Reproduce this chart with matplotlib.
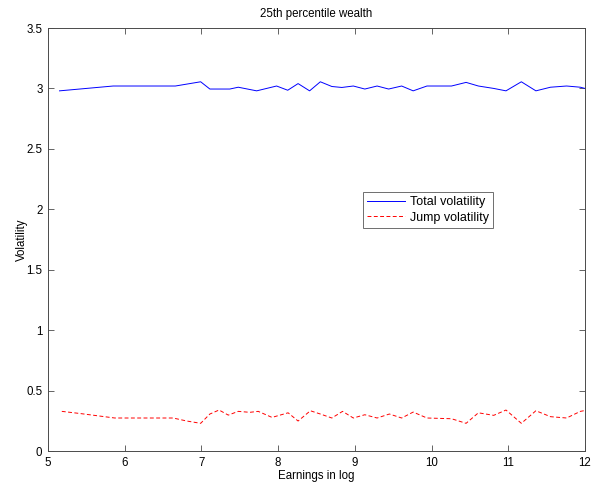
import matplotlib
matplotlib.use("Agg")
import matplotlib.pyplot as plt

plt.rcParams['font.family'] = ['Liberation Sans', 'DejaVu Sans']

total_x = [5.15, 5.5, 5.85, 6.66, 6.99, 7.11, 7.37, 7.48, 7.72, 7.98, 8.125, 8.26, 8.41, 8.55,
           8.70, 8.83, 8.98, 9.13, 9.29, 9.44, 9.61, 9.76, 9.94, 10.26, 10.45, 10.61, 10.81,
           10.97, 11.17, 11.36, 11.55, 11.76, 11.94, 12.0]
total_vol = [2.98, 3.0, 3.02, 3.02, 3.055, 2.995, 2.995, 3.01, 2.98, 3.02, 2.985, 3.04, 2.98, 3.055,
             3.016, 3.008, 3.02, 2.995, 3.02, 2.995, 3.02, 2.98, 3.02, 3.02, 3.05, 3.02, 3.0,
             2.98, 3.055, 2.98, 3.01, 3.02, 3.01, 3.0]

jump_x = [5.18, 5.42, 5.87, 6.63, 6.81, 6.99, 7.11, 7.23, 7.35, 7.48, 7.63, 7.74, 7.92, 8.13, 8.26,
          8.42, 8.55, 8.70, 8.84, 8.98, 9.13, 9.29, 9.45, 9.61, 9.76, 9.94, 10.26, 10.45, 10.61,
          10.81, 10.97, 11.17, 11.36, 11.55, 11.76, 11.94, 12.0]
jump_vol = [0.328, 0.31, 0.273, 0.273, 0.248, 0.229, 0.306, 0.339, 0.297, 0.328, 0.32, 0.328, 0.278,
            0.316, 0.248, 0.333, 0.306, 0.273, 0.328, 0.273, 0.30, 0.273, 0.306, 0.273, 0.322,
            0.273, 0.267, 0.229, 0.316, 0.295, 0.339, 0.229, 0.333, 0.284, 0.273, 0.328, 0.335]

xticks = [5, 6, 7, 8, 9, 10, 11, 12]
yticks = [0, 0.5, 1, 1.5, 2, 2.5, 3, 3.5]
yticklabels = ['0', '0.5', '1', '1.5', '2', '2.5', '3', '3.5']

axis_gray = '#4a4a4a'
fs = 8.3

fig = plt.figure(figsize=(5.98, 4.91), dpi=100)
ax = fig.add_axes([48/598, 40/491, 537/598, 423/491])

ax.plot(total_x, total_vol, color='#0000ff', lw=0.7, label='Total volatility')
ax.plot(jump_x, jump_vol, color='#ff0000', lw=0.7, ls=(0, (4, 2.5)), label='Jump volatility')

ax.set_xlim(5, 12)
ax.set_ylim(0, 3.5)
ax.set_xticks(xticks)
ax.set_xticklabels([str(t) for t in xticks])
ax.set_yticks(yticks)
ax.set_yticklabels(yticklabels)
ax.tick_params(direction='in', top=True, right=True, labelsize=fs, length=4, width=0.6,
               color=axis_gray, labelcolor='black')
ax.tick_params(axis='x', pad=4)
ax.tick_params(axis='y', pad=4)
for s in ax.spines.values():
    s.set_linewidth(0.7)
    s.set_color(axis_gray)

ax.set_title('25th percentile wealth', fontsize=fs, pad=8)
ax.set_xlabel('Earnings in log', fontsize=fs, labelpad=1)
ax.set_ylabel('Volatility', fontsize=fs, labelpad=-1)

leg = ax.legend(loc='upper left', bbox_to_anchor=(0.586, 0.612), fontsize=9, frameon=True,
                fancybox=False, edgecolor=axis_gray, borderpad=0.35, handlelength=3.0,
                labelspacing=0.25, handletextpad=0.4, borderaxespad=0)
leg.get_frame().set_linewidth(0.7)

fig.savefig('out.png', dpi=100)
